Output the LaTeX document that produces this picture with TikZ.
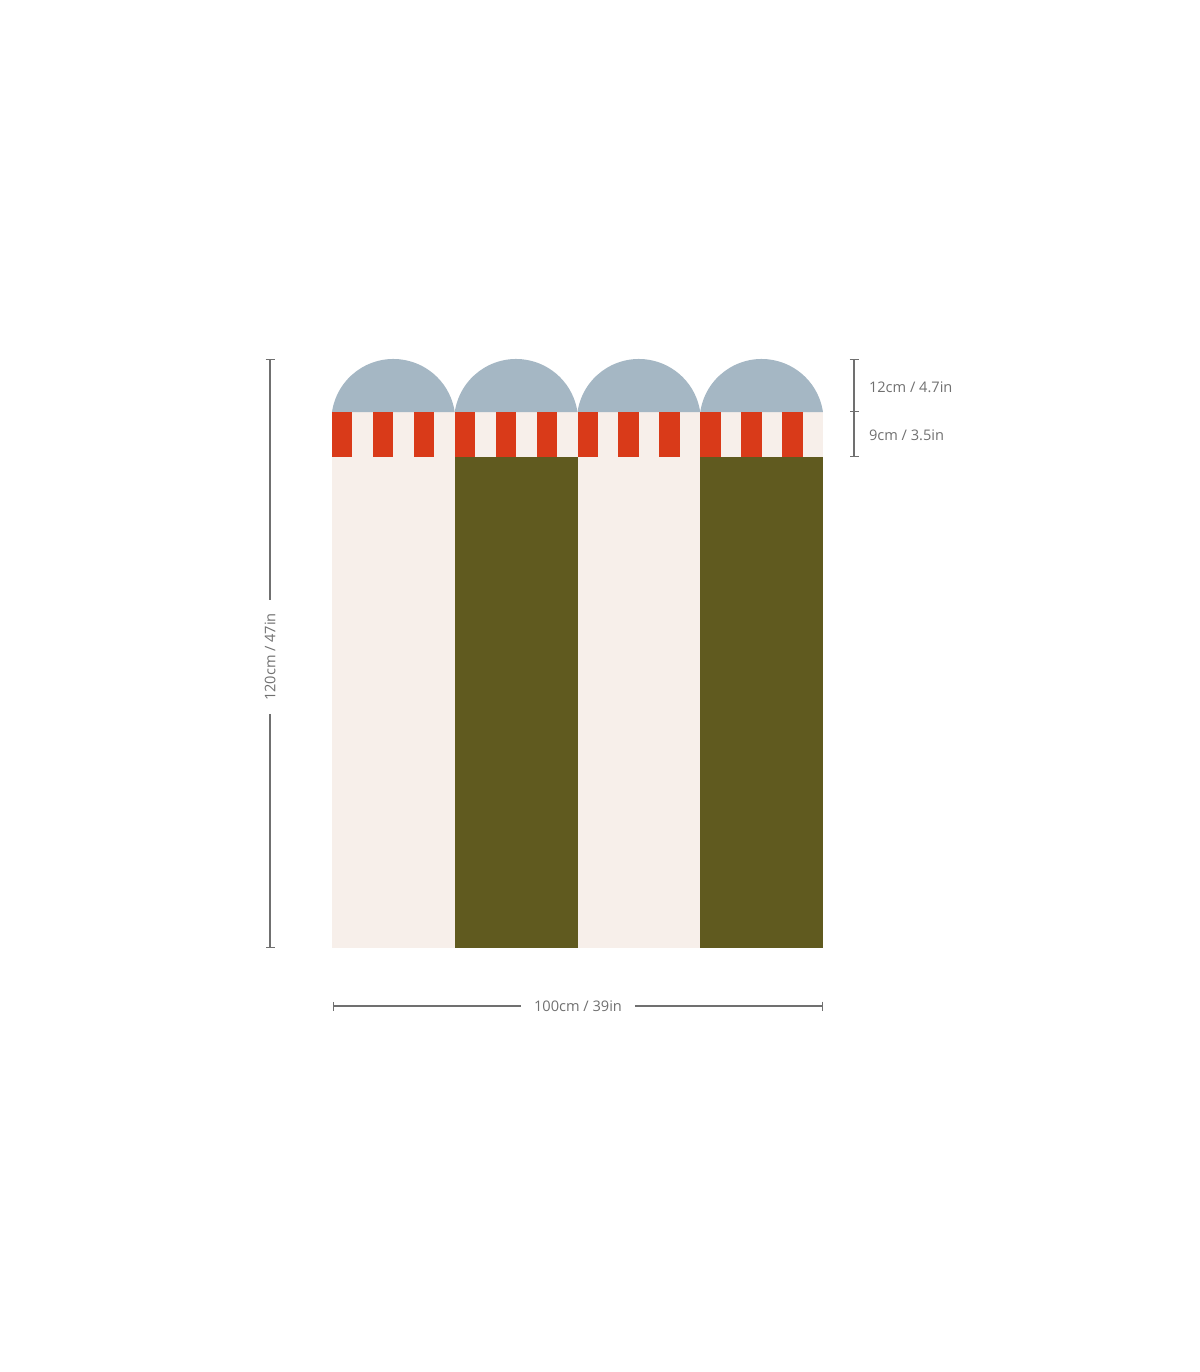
\documentclass[tikz,border=0pt]{standalone}
\usepackage{fontspec}
\setmainfont{Open Sans}
\usetikzlibrary{arrows.meta}
\definecolor{sky}{HTML}{A5B7C4}
\definecolor{brick}{HTML}{D93A19}
\definecolor{cream}{HTML}{F7EFEA}
\definecolor{olive}{HTML}{605A1F}
\definecolor{dimgray}{HTML}{707070}

\begin{document}
\begin{tikzpicture}[x=0.5pt, y=-0.5pt,
    dimline/.style={draw=dimgray, line width=0.7pt},
    dimlabel/.style={text=dimgray, font=\fontsize{7.3}{9}\selectfont, inner sep=0pt, outer xsep=6.5pt}]
    \useasboundingbox (0,0) rectangle (1200,1372);
    % panels
    \fill[cream] (332,412) rectangle (823,948);
    \foreach \i in {0,...,3} {
        \pgfmathsetmacro{\xl}{332+122.75*\i}
        \fill[sky] (\xl,412) arc[start angle=-171.65, end angle=-8.35, radius=62.03] -- cycle;
        \foreach \k in {0,1,2}
            \fill[brick] ({\xl+40.917*\k},412) rectangle ++(20.458,45);
    }
    \fill[olive] (455,457) rectangle (577.5,948);
    \fill[olive] (700.25,457) rectangle (823,948);
    % width
    \coordinate (wl) at (333,1006);
    \coordinate (wr) at (823,1006);
    \node[dimlabel] (wlab) at (578,1006) {100cm / 39in};
    \draw[dimline, {Bar[width=4.5pt]}-] (wl) -- (wlab);
    \draw[dimline, -{Bar[width=4.5pt]}] (wlab) -- (wr);
    % height
    \coordinate (ht) at (270,359);
    \coordinate (hb) at (270,948);
    \node[dimlabel, rotate=90] (hlab) at (270,657) {120cm / 47in};
    \draw[dimline, {Bar[width=4.5pt]}-] (ht) -- (hlab);
    \draw[dimline, -{Bar[width=4.5pt]}] (hlab) -- (hb);
    % arch and band
    \coordinate (at) at (854,359);
    \coordinate (am) at (854,412);
    \coordinate (ab) at (854,457);
    \draw[dimline, {Bar[width=4.5pt]}-{Bar[width=4.5pt]}] (at) -- (am);
    \draw[dimline, -{Bar[width=4.5pt]}] (am) -- (ab);
    \node[dimlabel, anchor=west, outer sep=0pt] (alab) at (869,387) {12cm / 4.7in};
    \node[dimlabel, anchor=west, outer sep=0pt] (blab) at (869,435) {9cm / 3.5in};
\end{tikzpicture}
\end{document}
